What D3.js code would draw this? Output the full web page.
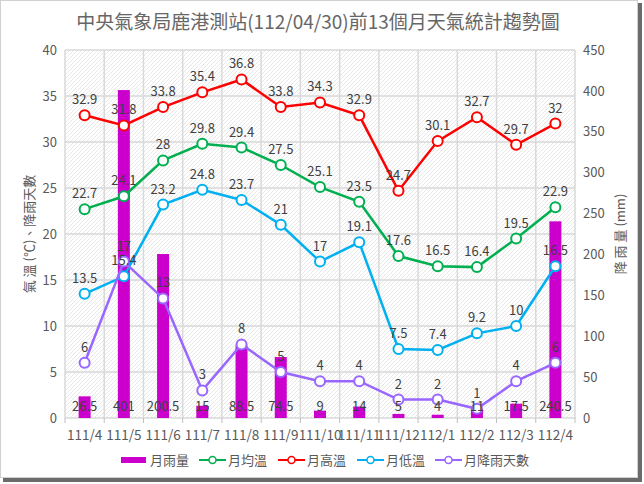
<!DOCTYPE html>
<html><head><meta charset="utf-8">
<script src="https://cdn.jsdelivr.net/npm/d3@7"></script>
<style>body{margin:0;background:#fff}text{font-family:"Noto Sans CJK TC","Noto Sans",sans-serif}</style>
</head><body><svg id="c" width="644" height="484"></svg>
<script>
const months = ["111/4","111/5","111/6","111/7","111/8","111/9","111/10","111/11","111/12","112/1","112/2","112/3","112/4"];
const rain = [26.5,401,200.5,15,88.5,74.5,9,14,5,4,11,17.5,240.5];
const avgT = [22.7,24.1,28,29.8,29.4,27.5,25.1,23.5,17.6,16.5,16.4,19.5,22.9];
const highT = [32.9,31.8,33.8,35.4,36.8,33.8,34.3,32.9,24.7,30.1,32.7,29.7,32];
const lowT = [13.5,15.4,23.2,24.8,23.7,21,17,19.1,7.5,7.4,9.2,10,16.5];
const rainDays = [6,17,13,3,8,5,4,4,2,2,1,4,6];
const leftTicks = [0,5,10,15,20,25,30,35,40];
const rightTicks = [0,50,100,150,200,250,300,350,400,450];

const svg = d3.select("#c");
const L=65,R=575,T=50,B=418;
const gray="#595959";
const numFont="'Liberation Sans Narrow',Lato,'Noto Sans',sans-serif";
const lblFont="Lato,'Noto Sans',sans-serif";

// frame
svg.append("rect").attr("x",638).attr("y",3).attr("width",4).attr("height",479).attr("fill","#6b6b6b");
svg.append("rect").attr("x",3).attr("y",478).attr("width",639).attr("height",4).attr("fill","#6b6b6b");
svg.append("rect").attr("x",0.5).attr("y",0.5).attr("width",637).attr("height",477).attr("fill","#fff").attr("stroke","#d0d0d0");

const defs=svg.append("defs");
const pat=defs.append("pattern").attr("id","hatch").attr("patternUnits","userSpaceOnUse").attr("width",4).attr("height",4);
pat.append("rect").attr("width",4).attr("height",4).attr("fill","#fff");
pat.append("path").attr("d","M-1,1 l2,-2 M0,4 l4,-4 M3,5 l2,-2").attr("stroke","#dedede").attr("stroke-width",0.7);

const x=d3.scaleBand().domain(months).range([L,R]);
const y=d3.scaleLinear().domain([0,40]).range([B,T]);
const y2=d3.scaleLinear().domain([0,450]).range([B,T]);
const cx=d=>x(d)+x.bandwidth()/2;

svg.append("rect").attr("x",L).attr("y",T).attr("width",R-L).attr("height",B-T).attr("fill","url(#hatch)");

// gridlines
svg.append("g").selectAll("line").data(leftTicks.slice(1)).join("line")
 .attr("x1",L).attr("x2",R).attr("y1",d=>y(d)).attr("y2",d=>y(d)).attr("stroke","#d9d9d9").attr("stroke-width",1.5);
const bounds=months.map(m=>x(m)).concat([R]);
svg.append("g").selectAll("line").data(bounds).join("line")
 .attr("x1",d=>d).attr("x2",d=>d).attr("y1",T).attr("y2",B).attr("stroke","#d9d9d9").attr("stroke-width",1.5);
svg.append("line").attr("x1",L).attr("x2",R).attr("y1",B).attr("y2",B).attr("stroke","#d9d9d9").attr("stroke-width",1.5);
svg.append("g").selectAll("line").data(bounds).join("line")
 .attr("x1",d=>d).attr("x2",d=>d).attr("y1",B).attr("y2",B+5).attr("stroke","#bfbfbf");

// axes
const ax=svg.append("g").attr("transform",`translate(${L-8},0)`).call(d3.axisLeft(y).tickValues(leftTicks).tickSize(0).tickPadding(0));
ax.select(".domain").remove();
ax.selectAll("text").attr("fill",gray).attr("font-size",13).attr("font-family",lblFont);
const ax2=svg.append("g").attr("transform",`translate(${R+8},0)`).call(d3.axisRight(y2).tickValues(rightTicks).tickSize(0).tickPadding(0));
ax2.select(".domain").remove();
ax2.selectAll("text").attr("fill",gray).attr("font-size",13).attr("font-family",lblFont);
const axb=svg.append("g").attr("transform",`translate(0,${B+12})`).call(d3.axisBottom(x).tickSize(0).tickPadding(0));
axb.select(".domain").remove();
axb.selectAll("text").attr("fill",gray).attr("font-size",13.5).attr("font-family",numFont).attr("dy","0.71em");

// axis titles
svg.append("text").attr("transform",`translate(29,${(T+B)/2}) rotate(-90)`).attr("text-anchor","middle").attr("dy","0.35em")
 .attr("fill",gray).attr("font-size",13).text("氣 溫 (℃)、降雨天數");
svg.append("text").attr("transform",`translate(620,${(T+B)/2}) rotate(-90)`).attr("text-anchor","middle").attr("dy","0.35em")
 .attr("fill",gray).attr("font-size",13).text("降 雨 量 (mm)");

// title
svg.append("text").attr("x",318).attr("y",29).attr("text-anchor","middle").attr("fill","#666").attr("font-size",19).text("中央氣象局鹿港測站(112/04/30)前13個月天氣統計趨勢圖");

// bars
const bw=12;
svg.append("g").selectAll("rect").data(months).join("rect")
 .attr("x",d=>cx(d)-bw/2).attr("width",bw).attr("y",(d,i)=>y2(rain[i])).attr("height",(d,i)=>B-y2(rain[i])).attr("fill","#CC00CC");

// lines
const series=[
 {name:"月均溫",vals:avgT,color:"#00B050"},
 {name:"月高溫",vals:highT,color:"#FF0000"},
 {name:"月低溫",vals:lowT,color:"#00B0F0"},
 {name:"月降雨天數",vals:rainDays,color:"#9966FF"}
];
const line=d3.line().x((d,i)=>cx(months[i])).y(d=>y(d));
series.forEach(s=>{
 const g=svg.append("g");
 g.append("path").datum(s.vals).attr("d",line).attr("fill","none").attr("stroke",s.color).attr("stroke-width",2.5);
 g.selectAll("circle").data(s.vals).join("circle").attr("cx",(d,i)=>cx(months[i])).attr("cy",d=>y(d)).attr("r",5)
  .attr("fill","#fff").attr("stroke",s.color).attr("stroke-width",2);
});
// labels
series.forEach(s=>{
 svg.append("g").selectAll("text").data(s.vals).join("text").attr("x",(d,i)=>cx(months[i])).attr("y",d=>y(d)-11)
  .attr("text-anchor","middle").attr("fill","#404040").attr("font-size",13).attr("font-family",lblFont).text(d=>d);
});
svg.append("g").selectAll("text").data(rain).join("text").attr("x",(d,i)=>cx(months[i])).attr("y",B-7)
 .attr("text-anchor","middle").attr("fill","#404040").attr("font-size",13).attr("font-family",lblFont).text(d=>d);

// legend
const lg=svg.append("g").attr("transform","translate(121,460)");
lg.append("rect").attr("x",0).attr("y",-3).attr("width",25).attr("height",6).attr("fill","#CC00CC");
lg.append("text").attr("x",29).attr("y",0).attr("dy","0.35em").attr("fill",gray).attr("font-size",13).text("月雨量");
const lx=[78,157,236,314];
series.forEach((s,i)=>{
 const gg=lg.append("g").attr("transform",`translate(${lx[i]},0)`);
 gg.append("line").attr("x1",0).attr("x2",27).attr("stroke",s.color).attr("stroke-width",2);
 gg.append("circle").attr("cx",13.5).attr("r",3.5).attr("fill","#fff").attr("stroke",s.color).attr("stroke-width",1.5);
 gg.append("text").attr("x",29).attr("y",0).attr("dy","0.35em").attr("fill",gray).attr("font-size",13).text(s.name);
});
</script></body></html>
